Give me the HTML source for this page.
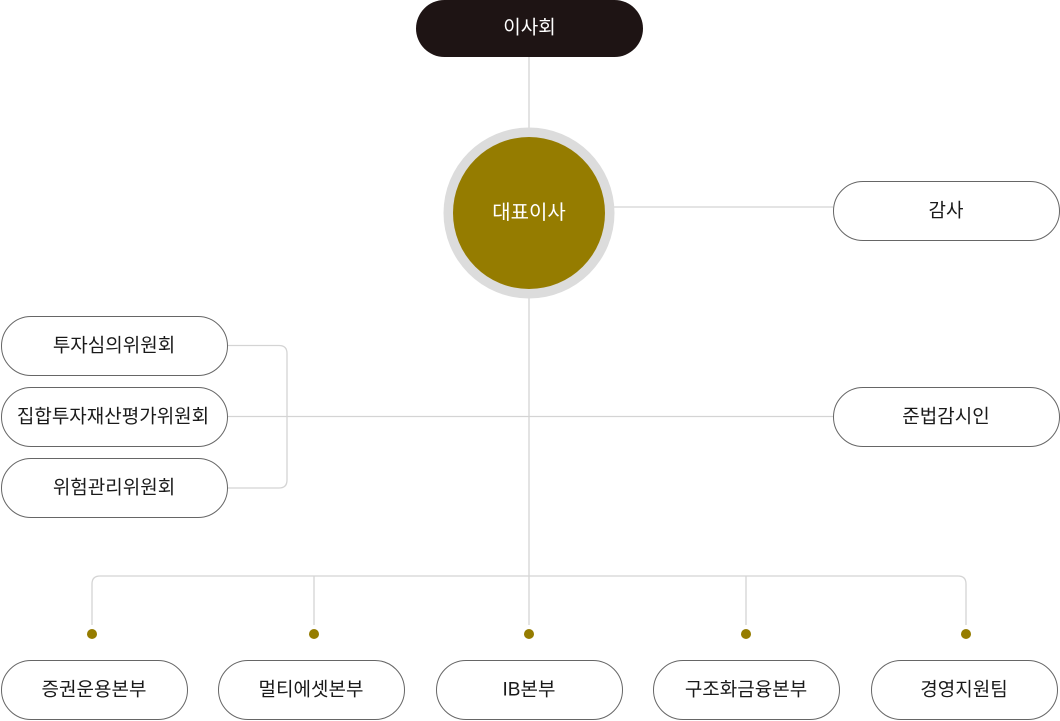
<!DOCTYPE html>
<html><head><meta charset="utf-8"><style>
html,body{margin:0;padding:0;background:#fff;}
svg{display:block;}
text{font-family:"Liberation Sans","Noto Sans CJK KR",sans-serif;font-size:19px;text-anchor:middle;dominant-baseline:central;fill:#1a1a1a;}
</style></head><body>
<svg width="1060" height="721" viewBox="0 0 1060 721" xmlns="http://www.w3.org/2000/svg">
<g fill="none" stroke="#d4d4d4" stroke-width="1.3">
<line x1="529" y1="57" x2="529" y2="128"/>
<line x1="529" y1="298" x2="529" y2="625"/>
<line x1="613" y1="207" x2="833" y2="207"/>
<line x1="227" y1="416.5" x2="833" y2="416.5"/>
<path d="M227 345.5 H279 Q287 345.5 287 353.5 V480 Q287 488 279 488 H227"/>
<path d="M92 625 V584 Q92 576 100 576 H958 Q966 576 966 584 V625"/>
<line x1="314" y1="576" x2="314" y2="625"/>
<line x1="746" y1="576" x2="746" y2="625"/>
</g>
<g fill="#957c00">
<circle cx="92" cy="634" r="5"/><circle cx="314" cy="634" r="5"/><circle cx="529" cy="634" r="5"/><circle cx="746" cy="634" r="5"/><circle cx="966" cy="634" r="5"/>
</g>
<rect x="416" y="0" width="227" height="57" rx="28.5" fill="#1e1414"/>
<text x="529.5" y="28" style="fill:#fff">이사회</text>
<circle cx="529" cy="213" r="85.5" fill="#dcdcdc"/>
<circle cx="529" cy="213" r="76" fill="#957c00"/>
<text x="529" y="213" style="fill:#fff;font-size:20px">대표이사</text>
<g fill="#fff" stroke="#666" stroke-width="1">
<rect x="833.5" y="181.5" width="226" height="59" rx="29.5"/>
<rect x="833.5" y="387.5" width="226" height="59" rx="29.5"/>
<rect x="1.5" y="316.5" width="226" height="59" rx="29.5"/>
<rect x="1.5" y="387.5" width="226" height="59" rx="29.5"/>
<rect x="1.5" y="458.5" width="226" height="59" rx="29.5"/>
<rect x="1.5" y="660.5" width="186" height="59" rx="29.5"/>
<rect x="218.5" y="660.5" width="186" height="59" rx="29.5"/>
<rect x="436.5" y="660.5" width="186" height="59" rx="29.5"/>
<rect x="653.5" y="660.5" width="186" height="59" rx="29.5"/>
<rect x="871.5" y="660.5" width="186" height="59" rx="29.5"/>
</g>
<text x="946" y="211">감사</text>
<text x="946" y="417">준법감시인</text>
<text x="114" y="346">투자심의위원회</text>
<text x="113" y="417">집합투자재산평가위원회</text>
<text x="114" y="488">위험관리위원회</text>
<text x="94" y="690">증권운용본부</text>
<text x="311" y="690">멀티에셋본부</text>
<text x="529" y="690">IB본부</text>
<text x="746" y="690">구조화금융본부</text>
<text x="964" y="690">경영지원팀</text>
</svg>
</body></html>
